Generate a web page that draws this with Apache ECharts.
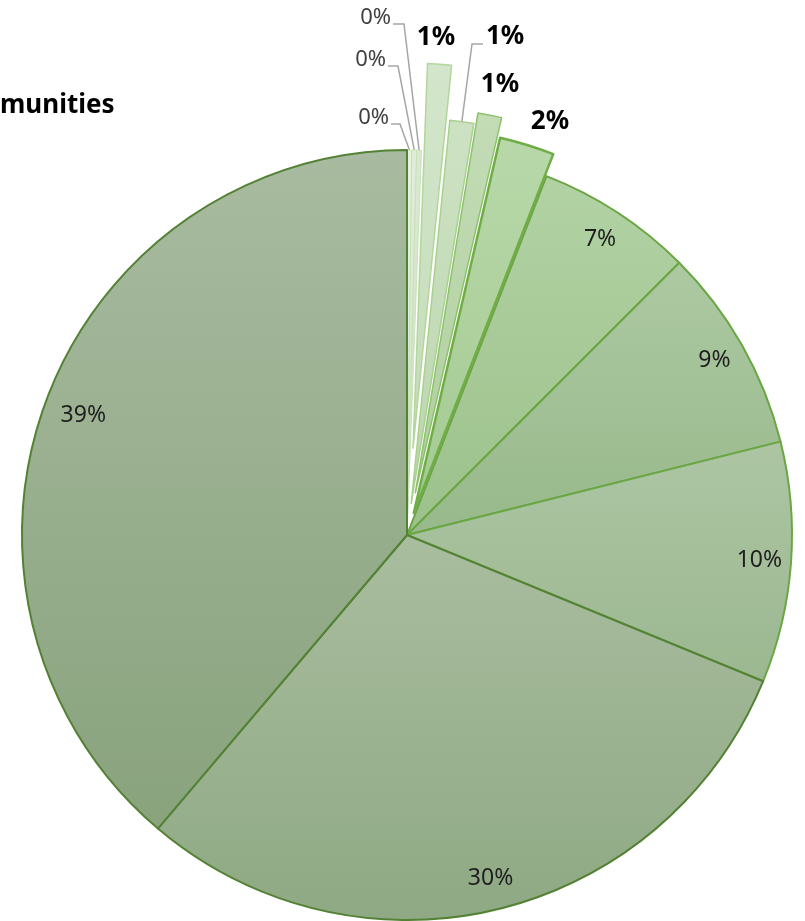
<!DOCTYPE html>
<html><head><meta charset="utf-8">
<script src="https://cdn.jsdelivr.net/npm/echarts@6/dist/echarts.min.js"></script>
<style>html,body{margin:0;padding:0;background:#fff}#c{width:805px;height:921px}</style>
</head><body><div id="c"></div>
<script>
// ---- data ----
const categories = ['Item 1','Item 2','Item 3','Item 4','Item 5','Item 6','Item 7','Item 8','Item 9','Item 10','Item 11','Item 12'];
const values = [0.2, 0.2, 0.2, 1.0, 1.0, 1.0, 2.3, 6.6, 8.6, 10.1, 30.0, 38.8];
const titleText = 'munities';

// ---- layout / style ----
const CX = 407, CY = 535, R = 385;
const explode = [0, 0, 0, 87, 32, 43, 23, 0, 0, 0, 0, 0];
const fills = [
  ['#e6f1e1','#dbead5'], ['#e0eed9','#d4e6cc'], ['#d9ead1','#cde2c4'],
  ['#d3e6cb','#c4dcb9'], ['#cde2c3','#bcd6b0'], ['#c3dcb6','#b0cf9f'],
  ['#b8d8a9','#a4ca92'], ['#b2d2a4','#9cc18b'], ['#adc9a2','#97b98b'],
  ['#adc5a3','#9bb891'], ['#a9bd9f','#8fa984'], ['#a8bba0','#89a37d']
];
const borders = ['#c9e1bb','#c9e1bb','#c9e1bb','#b3d69c','#a9d18e','#8dc26b','#70ad47','#6aa643','#6aa643','#6aa643','#548235','#548235'];
const bwidths = [1, 1, 1, 1.5, 1.5, 1.5, 2.5, 2, 2, 2, 2, 2];

const total = values.reduce((a, b) => a + b, 0);
const pct = v => Math.round(v / total * 100) + '%';
const starts = [];
values.reduce((acc, v, i) => { starts[i] = acc; return acc + v; }, 0);
const midDeg = i => (starts[i] + values[i] / 2) / total * 360;
const pt = (rad, deg) => [CX + rad * Math.sin(deg * Math.PI / 180), CY - rad * Math.cos(deg * Math.PI / 180)];

function styleFor(i) {
  return {
    color: new echarts.graphic.LinearGradient(0, 0, 0, 1, [
      { offset: 0, color: fills[i][0] }, { offset: 1, color: fills[i][1] }
    ]),
    borderColor: borders[i], borderWidth: bwidths[i], opacity: 1
  };
}
const hidden = { color: 'rgba(0,0,0,0)', borderWidth: 0, borderColor: 'rgba(0,0,0,0)' };

const base = {
  type: 'pie', center: [CX, CY], radius: [0, R], startAngle: 90, clockwise: true,
  animation: false, avoidLabelOverlap: false, label: { show: false }, labelLine: { show: false },
  emphasis: { disabled: true }
};

const series = [];
series.push(Object.assign({}, base, {
  data: values.map((v, i) => ({ name: categories[i], value: v, itemStyle: explode[i] ? hidden : styleFor(i) }))
}));
explode.forEach((off, k) => {
  if (!off) return;
  series.push(Object.assign({}, base, {
    selectedMode: 'single', selectedOffset: off,
    data: values.map((v, i) => ({
      name: categories[i], value: v, selected: i === k,
      itemStyle: i === k ? styleFor(i) : hidden,
      select: { itemStyle: i === k ? styleFor(i) : hidden }
    }))
  }));
});

// label anchors for the small slices (text placement only)
const leader = {
  0: { knee: [400, 124], end: [391, 124], side: 'right' },
  1: { knee: [398, 66], end: [388, 66], side: 'right' },
  2: { knee: [404, 24], end: [393, 24], side: 'right' },
  4: { knee: [472, 44], end: [483, 44], side: 'left' }
};
const boldSpot = { 3: [436, 38], 5: [500, 85], 6: [550, 122] };

function labelFor(i) {
  if (i >= 7) return { show: true, position: 'inside', formatter: p => pct(p.value), fontSize: 23, color: '#1f1f1f', fontFamily: 'Noto Sans' };
  if (i >= 3) return { show: true, position: 'outside', formatter: p => pct(p.value), fontSize: 26, fontWeight: 'bold', color: '#000', fontFamily: 'Noto Sans' };
  return { show: true, position: 'outside', formatter: p => pct(p.value), fontSize: 22, color: '#404040', fontFamily: 'Noto Sans' };
}

const labelSeriesIndex = series.length;
series.push(Object.assign({}, base, {
  radius: [R * 0.82, R],
  data: values.map((v, i) => ({
    name: categories[i], value: v, itemStyle: hidden,
    label: labelFor(i),
    labelLine: { show: leader[i] !== undefined, lineStyle: { color: '#a6a6a6', width: 1.5 } }
  })),
  labelLayout: function (params) {
    const i = params.dataIndex;
    if (params.seriesIndex !== labelSeriesIndex) return {};
    if (leader[i]) {
      const L = leader[i];
      const p0 = pt(R + explode[i], midDeg(i));
      if (L.side === 'right') {
        return { x: L.end[0] - 2, y: L.end[1] - 6, align: 'right', verticalAlign: 'middle', labelLinePoints: [p0, L.knee, L.end] };
      }
      return { x: L.end[0] + 3, y: L.end[1] - 7, align: 'left', verticalAlign: 'middle', labelLinePoints: [p0, L.knee, L.end] };
    }
    if (boldSpot[i]) {
      return { x: boldSpot[i][0], y: boldSpot[i][1], align: 'center', verticalAlign: 'middle' };
    }
    if (i === 11) {
      return { dx: 8, dy: 2 };
    }
    return {};
  }
}));

const chart = echarts.init(document.getElementById('c'), null, { renderer: 'canvas' });
chart.setOption({
  animation: false,
  backgroundColor: '#fff',
  title: { text: titleText, left: 0, top: 93, padding: 0, textStyle: { fontSize: 26, fontWeight: 'bold', color: '#000', fontFamily: 'Noto Sans' } },
  series: series
});
</script></body></html>
